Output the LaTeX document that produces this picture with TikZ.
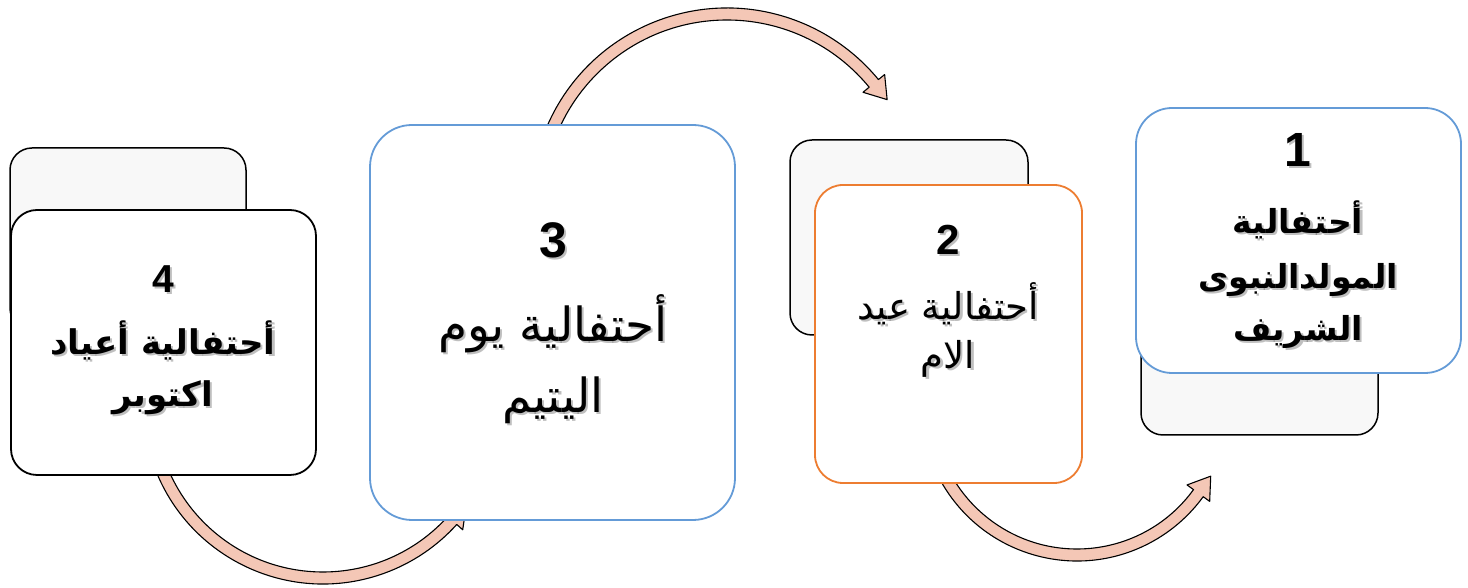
\documentclass[tikz,border=0pt]{standalone}
\usepackage{fontspec}
\usetikzlibrary{calc}
\TeXXeTstate=1
\newfontfamily\arabicfont[Script=Arabic]{DejaVu Sans}
\newfontfamily\numfont{Liberation Sans}
\definecolor{bandfill}{RGB}{244,199,182}
\definecolor{boxblue}{RGB}{100,155,215}
\definecolor{boxorange}{RGB}{237,125,49}
\definecolor{backfill}{RGB}{248,248,248}
\tikzset{
  arrowband/.style={fill=bandfill, draw=black, line width=1.1pt, line join=round},
  backbox/.style={draw=black, line width=1.5pt, fill=backfill, rounded corners=22pt, inner sep=0pt},
  frontbox/.style={draw=black, line width=1.8pt, fill=white, rounded corners=28pt, inner sep=0pt},
  txtshadow/.style={inner sep=0pt, text=black, opacity=0.25},
  txtmain/.style={inner sep=0pt, text=black},
}
\newcommand\bentarrow[6]{%
  \filldraw[arrowband] ($(#1,#2)+({#4}:{#3+6})$) arc[start angle=#4, end angle=#5, radius=#3+6]
   -- ($(#1,#2)+({#5}:{#3+14})$) -- ($(#1,#2)+({#5}:{#3})+({#5#6}:21)$)
   -- ($(#1,#2)+({#5}:{#3-14})$) -- ($(#1,#2)+({#5}:{#3-6})$)
   arc[start angle=#5, end angle=#4, radius=#3-6] -- cycle;}
% name, x, y, font, text  (text with its soft drop shadow)
\newcommand\stext[5]{%
  \node[txtshadow, font=#4] (#1s) at (#2+2.2,#3-2.2) {#5};
  \node[txtmain, font=#4] (#1) at (#2,#3) {#5};}
\begin{document}
\begin{tikzpicture}[x=1pt,y=1pt]
\useasboundingbox (0,0) rectangle (1468,588);
% arrows
\bentarrow{727}{384}{190}{158}{39.4}{-90}
\bentarrow{323}{184}{174}{200}{318}{+90}
\bentarrow{1077}{183}{150}{208}{324}{+90}
% back boxes
\node[backbox, minimum width=236pt, minimum height=182pt] (b4back) at (128,349) {};
\node[backbox, minimum width=238pt, minimum height=195pt] (b2back) at (909,350.5) {};
\node[backbox, minimum width=237pt, minimum height=235pt] (b1back) at (1259.5,270.5) {};
% front boxes
\node[frontbox, minimum width=305pt, minimum height=265pt, rounded corners=26pt] (b4) at (163.5,245.5) {};
\node[frontbox, draw=boxblue, minimum width=365pt, minimum height=395pt, rounded corners=42pt] (b3) at (552.5,265.5) {};
\node[frontbox, draw=boxorange, minimum width=267pt, minimum height=298pt, rounded corners=28pt] (b2) at (948.5,254) {};
\node[frontbox, draw=boxblue, minimum width=325pt, minimum height=265pt, rounded corners=36pt] (b1) at (1298.5,347.5) {};
% texts box 4
\stext{n4}{163}{309}{\numfont\bfseries\fontsize{39}{44}\selectfont}{4}
\stext{t4a}{163}{248}{\arabicfont\bfseries\fontsize{34}{40}\selectfont}{\beginR أحتفالية أعياد\endR}
\stext{t4b}{163}{190}{\arabicfont\bfseries\fontsize{34}{40}\selectfont}{\beginR اكتوبر\endR}
% texts box 3
\stext{n3}{553}{348}{\numfont\bfseries\fontsize{50}{56}\selectfont}{3}
\stext{t3a}{553}{264}{\arabicfont\fontsize{47}{54}\selectfont}{\beginR أحتفالية يوم\endR}
\stext{t3b}{553}{188}{\arabicfont\fontsize{47}{54}\selectfont}{\beginR اليتيم\endR}
% texts box 2
\stext{n2}{948}{348}{\numfont\bfseries\fontsize{42}{48}\selectfont}{2}
\stext{t2a}{948}{284}{\arabicfont\fontsize{37}{42}\selectfont}{\beginR أحتفالية عيد\endR}
\stext{t2b}{948}{229}{\arabicfont\fontsize{37}{42}\selectfont}{\beginR الام\endR}
% texts box 1
\stext{n1}{1298}{438}{\numfont\bfseries\fontsize{48}{54}\selectfont}{1}
\stext{t1a}{1298}{368}{\arabicfont\bfseries\fontsize{33}{38}\selectfont}{\beginR أحتفالية\endR}
\stext{t1b}{1298}{308}{\arabicfont\bfseries\fontsize{33}{38}\selectfont}{\beginR المولدالنبوى\endR}
\stext{t1c}{1298}{256}{\arabicfont\bfseries\fontsize{33}{38}\selectfont}{\beginR الشريف\endR}
\end{tikzpicture}
\end{document}
